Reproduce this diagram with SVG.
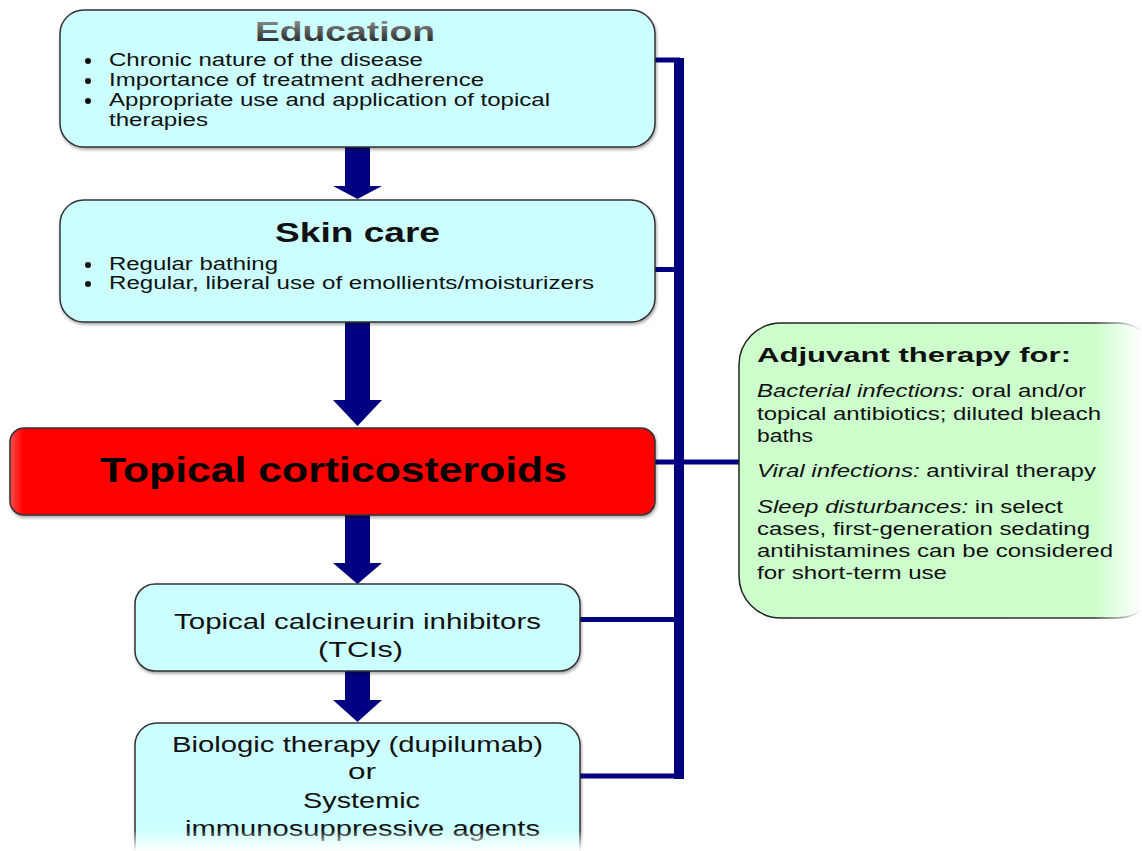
<svg xmlns="http://www.w3.org/2000/svg" width="1142" height="851" viewBox="0 0 1142 851">
  <defs>
    <linearGradient id="titleGrad" x1="0" y1="0" x2="0" y2="1">
      <stop offset="0" stop-color="#9a9a9a"/>
      <stop offset="1" stop-color="#111"/>
    </linearGradient>
    <linearGradient id="greenFill" gradientUnits="userSpaceOnUse" x1="739" y1="0" x2="1142" y2="0">
      <stop offset="0" stop-color="#ccffcc"/>
      <stop offset="0.88" stop-color="#ccffcc"/>
      <stop offset="1" stop-color="#ffffff"/>
    </linearGradient>
    <linearGradient id="greenStroke" gradientUnits="userSpaceOnUse" x1="739" y1="0" x2="1142" y2="0">
      <stop offset="0" stop-color="#222"/>
      <stop offset="0.88" stop-color="#333"/>
      <stop offset="1" stop-color="#ffffff"/>
    </linearGradient>
    <linearGradient id="redFill" x1="0" y1="0" x2="1" y2="0">
      <stop offset="0" stop-color="#ff5050"/>
      <stop offset="0.02" stop-color="#ff0000"/>
      <stop offset="1" stop-color="#ff0000"/>
    </linearGradient>
    <linearGradient id="bottomFade" x1="0" y1="0" x2="0" y2="1">
      <stop offset="0" stop-color="#ffffff" stop-opacity="0"/>
      <stop offset="1" stop-color="#ffffff" stop-opacity="1"/>
    </linearGradient>
    <filter id="shadow" x="-5%" y="-5%" width="110%" height="120%">
      <feDropShadow dx="1" dy="2" stdDeviation="1.5" flood-color="#000" flood-opacity="0.35"/>
    </filter>
  </defs>
  <style>
    .box { fill: #ccffff; stroke: #333; stroke-width: 1.5; }
    .t { font-family: "Liberation Sans", Arial, sans-serif; fill: #111; }
    .b { font-size: 17.5px; }
    .h { font-size: 27px; font-weight: bold; }
    .m { font-size: 22px; }
    .g { font-size: 17.5px; }
    .i { font-style: italic; }
    .conn { fill: none; stroke: #000080; stroke-width: 5; }
    .arrow { fill: #000080; }
  </style>
  <rect width="1142" height="851" fill="#ffffff"/>

  <g id="connectors">
    <line class="conn" x1="655" y1="60" x2="680" y2="60"/>
    <line class="conn" x1="655" y1="269.5" x2="680" y2="269.5"/>
    <line class="conn" x1="655" y1="462" x2="740" y2="462"/>
    <line class="conn" x1="580" y1="619.5" x2="680" y2="619.5"/>
    <line class="conn" x1="580" y1="776" x2="683" y2="776"/>
    <rect x="674" y="58" width="10" height="721" fill="#000080"/>
    <polygon class="arrow" points="345,147 370,147 370,186 382,186 357.5,199 333,186 345,186"/>
    <polygon class="arrow" points="345,322 370,322 370,400 382,400 357.5,426 333,400 345,400"/>
    <polygon class="arrow" points="345,515 370,515 370,563 382,563 357.5,584 333,563 345,563"/>
    <polygon class="arrow" points="345,671 370,671 370,700 382,700 357.5,722 333,700 345,700"/>
  </g>

  <g id="education">
    <rect class="box" x="60" y="10" width="595" height="137" rx="24" filter="url(#shadow)"/>
    <text class="t h" x="255" y="41" textLength="180" lengthAdjust="spacingAndGlyphs" style="fill:url(#titleGrad)">Education</text>
    <circle cx="88" cy="61" r="3" fill="#111"/>
    <circle cx="88" cy="81" r="3" fill="#111"/>
    <circle cx="88" cy="101" r="3" fill="#111"/>
    <text class="t b" x="109" y="66" textLength="314" lengthAdjust="spacingAndGlyphs">Chronic nature of the disease</text>
    <text class="t b" x="109" y="86" textLength="375" lengthAdjust="spacingAndGlyphs">Importance of treatment adherence</text>
    <text class="t b" x="109" y="106" textLength="441" lengthAdjust="spacingAndGlyphs">Appropriate use and application of topical</text>
    <text class="t b" x="109" y="126" textLength="99" lengthAdjust="spacingAndGlyphs">therapies</text>
  </g>

  <g id="skin-care">
    <rect class="box" x="60" y="200" width="595" height="122" rx="24" filter="url(#shadow)"/>
    <text class="t h" x="275" y="242" textLength="165" lengthAdjust="spacingAndGlyphs">Skin care</text>
    <circle cx="88" cy="265" r="3" fill="#111"/>
    <circle cx="88" cy="284" r="3" fill="#111"/>
    <text class="t b" x="109" y="270" textLength="169" lengthAdjust="spacingAndGlyphs">Regular bathing</text>
    <text class="t b" x="109" y="289" textLength="485" lengthAdjust="spacingAndGlyphs">Regular, liberal use of emollients/moisturizers</text>
  </g>

  <g id="topical-corticosteroids">
    <rect x="10" y="428" width="645" height="87" rx="14" fill="url(#redFill)" stroke="#333" stroke-width="1.5" filter="url(#shadow)"/>
    <text class="t" x="100" y="482" font-size="35" font-weight="bold" textLength="467" lengthAdjust="spacingAndGlyphs" style="fill:#000">Topical corticosteroids</text>
  </g>

  <g id="tcis">
    <rect class="box" x="135" y="584" width="445" height="87" rx="20" filter="url(#shadow)"/>
    <text class="t m" x="174" y="629" textLength="367" lengthAdjust="spacingAndGlyphs">Topical calcineurin inhibitors</text>
    <text class="t m" x="318" y="657" textLength="85" lengthAdjust="spacingAndGlyphs">(TCIs)</text>
  </g>

  <g id="biologic">
    <rect class="box" x="135" y="723" width="445" height="150" rx="22" filter="url(#shadow)"/>
    <text class="t m" x="172" y="752" textLength="371" lengthAdjust="spacingAndGlyphs">Biologic therapy (dupilumab)</text>
    <text class="t m" x="348" y="779" textLength="28" lengthAdjust="spacingAndGlyphs">or</text>
    <text class="t m" x="303" y="808" textLength="117" lengthAdjust="spacingAndGlyphs">Systemic</text>
    <text class="t m" x="185" y="836" textLength="355" lengthAdjust="spacingAndGlyphs">immunosuppressive agents</text>
    <rect x="120" y="830" width="480" height="21" fill="url(#bottomFade)"/>
  </g>

  <g id="adjuvant-therapy">
    <rect x="739" y="323" width="420" height="295" rx="42" fill="url(#greenFill)" stroke="url(#greenStroke)" stroke-width="1.5"/>
    <text class="t" x="757" y="362" font-size="20" font-weight="bold" textLength="314" lengthAdjust="spacingAndGlyphs">Adjuvant therapy for:</text>
    <text class="t g" x="757" y="397" textLength="329" lengthAdjust="spacingAndGlyphs"><tspan class="i">Bacterial infections:</tspan> oral and/or</text>
    <text class="t g" x="757" y="420" textLength="344" lengthAdjust="spacingAndGlyphs">topical antibiotics; diluted bleach</text>
    <text class="t g" x="757" y="442" textLength="56" lengthAdjust="spacingAndGlyphs">baths</text>
    <text class="t g" x="757" y="477" textLength="339" lengthAdjust="spacingAndGlyphs"><tspan class="i">Viral infections:</tspan> antiviral therapy</text>
    <text class="t g" x="757" y="513" textLength="306" lengthAdjust="spacingAndGlyphs"><tspan class="i">Sleep disturbances:</tspan> in select</text>
    <text class="t g" x="757" y="535" textLength="333" lengthAdjust="spacingAndGlyphs">cases, first-generation sedating</text>
    <text class="t g" x="757" y="557" textLength="356" lengthAdjust="spacingAndGlyphs">antihistamines can be considered</text>
    <text class="t g" x="757" y="579" textLength="190" lengthAdjust="spacingAndGlyphs">for short-term use</text>
  </g>
</svg>
